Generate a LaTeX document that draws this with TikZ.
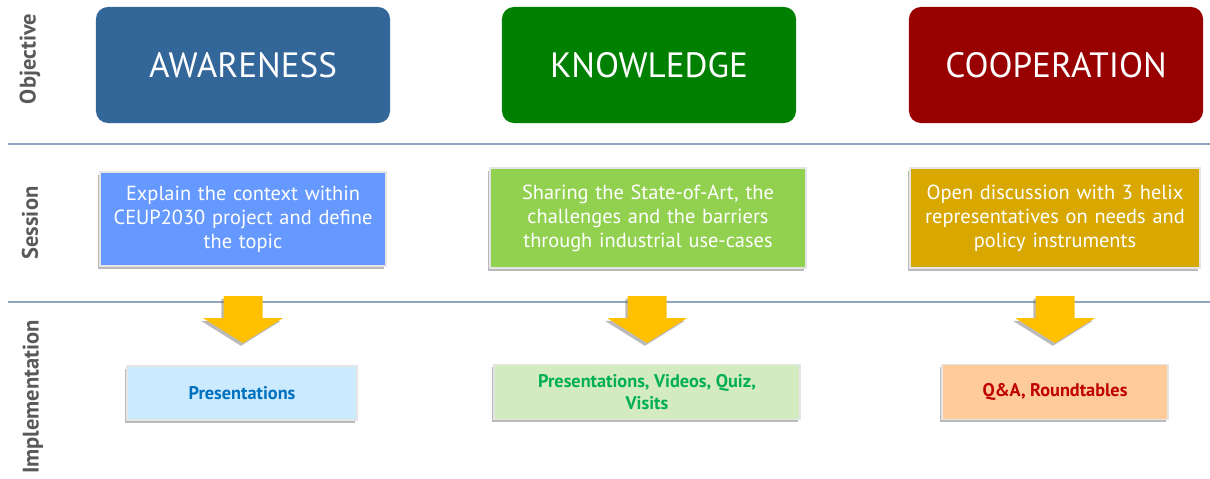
\documentclass[tikz,border=0pt]{standalone}
\usepackage{fontspec}
\setmainfont{PT Sans}
\usetikzlibrary{shadows}
\definecolor{awareblue}{HTML}{336699}
\definecolor{knowgreen}{HTML}{008000}
\definecolor{coopred}{HTML}{990000}
\definecolor{sessblue}{HTML}{6699FF}
\definecolor{sessgreen}{HTML}{92D050}
\definecolor{sessgold}{HTML}{D8A800}
\definecolor{arrowgold}{HTML}{FFC000}
\definecolor{implblue}{HTML}{CCEAFD}
\definecolor{impltextblue}{HTML}{0070C0}
\definecolor{implgreen}{HTML}{D4EAC0}
\definecolor{impltextgreen}{HTML}{00B050}
\definecolor{implorange}{HTML}{FFCC99}
\definecolor{impltextred}{HTML}{C00000}
\definecolor{rowgray}{HTML}{595959}
\definecolor{rulegray}{HTML}{8FA5BF}

\tikzset{
  goal/.style={rounded corners=0.3cm, minimum width=7.35cm, minimum height=2.9cm,
    text=white, font=\fontsize{25}{30}\selectfont},
  boxshadow/.style={drop shadow={shadow xshift=-1.5pt, shadow yshift=-2pt,
    opacity=0.45, fill=black!60}},
  session/.style={boxshadow, draw=white!80!gray, line width=0.8pt, align=center,
    text=white, font=\fontsize{14.5}{17}\selectfont},
  impl/.style={boxshadow, draw=white!80!gray, line width=0.8pt, align=center,
    font=\bfseries\fontsize{13}{16}\selectfont},
  rowlabel/.style={rotate=90, text=rowgray, font=\bfseries\fontsize{16}{18}\selectfont},
  rowrule/.style={rulegray, line width=0.8pt},
}

\begin{document}
\begin{tikzpicture}[x=0.025cm, y=-0.025cm]
  \useasboundingbox (0,0) rectangle (1210,479);

  % row titles
  \node[rowlabel] (objlab) at (30,59) {Objective};
  \node[rowlabel] (seslab) at (30,223) {Session};
  \node[rowlabel] (implab) at (33,397) {Implementation};

  % separators
  \draw[rowrule] (8,144) -- (1210,144);
  \draw[rowrule] (8,302) -- (1210,302);

  % objectives
  \node[goal, fill=awareblue] (aware) at (243,65) {AWARENESS};
  \node[goal, fill=knowgreen] (know) at (649,65) {KNOWLEDGE};
  \node[goal, fill=coopred] (coop) at (1056,65) {COOPERATION};

  % sessions
  \node[session, fill=sessblue, minimum width=7.15cm, minimum height=2.35cm, text width=6.8cm]
    (sesaware) at (243,219) {Explain the context within\\CEUP2030 project and define\\the topic};
  \node[session, fill=sessgreen, minimum width=7.9cm, minimum height=2.5cm, text width=7.6cm]
    (sesknow) at (648,218) {Sharing the State-of-Art, the\\challenges and the barriers\\through industrial use-cases};
  \node[session, fill=sessgold, minimum width=7.25cm, minimum height=2.5cm, text width=7cm]
    (sescoop) at (1055,218) {Open discussion with 3 helix\\representatives on needs and\\policy instruments};

  % down arrows
  \foreach \cx in {243,647,1055}
    \fill[arrowgold, boxshadow] (\cx-19.5,296) -- (\cx+19.5,296) -- (\cx+19.5,318)
      -- (\cx+40,318) -- (\cx,343) -- (\cx-40,318) -- (\cx-19.5,318) -- cycle;

  % implementation
  \node[impl, fill=implblue, text=impltextblue, minimum width=5.75cm, minimum height=1.35cm]
    (impaware) at (242,393) {Presentations};
  \node[impl, fill=implgreen, text=impltextgreen, minimum width=7.65cm, minimum height=1.375cm]
    (impknow) at (647,392) {Presentations, Videos, Quiz,\\Visits};
  \node[impl, fill=implorange, text=impltextred, minimum width=5.65cm, minimum height=1.375cm]
    (impcoop) at (1055,392) {Q\&A, Roundtables};
\end{tikzpicture}
\end{document}
